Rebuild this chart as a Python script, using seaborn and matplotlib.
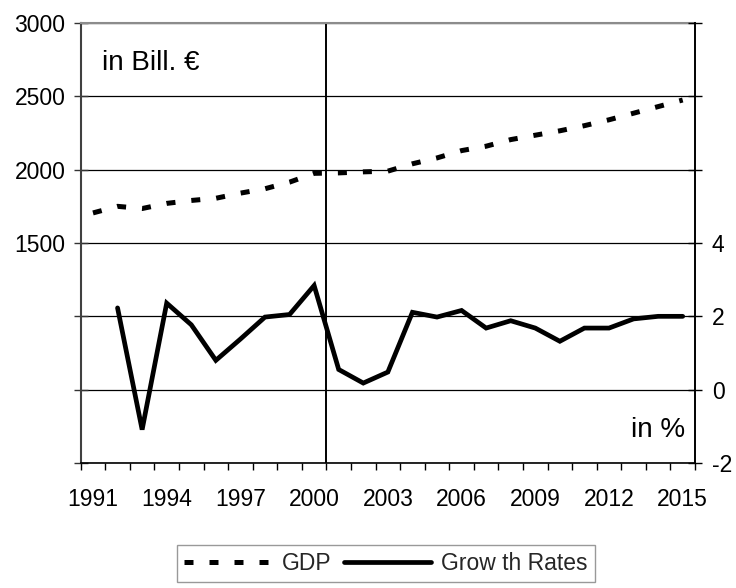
import numpy as np
import pandas as pd
import matplotlib
matplotlib.use("Agg")
import matplotlib.pyplot as plt
import seaborn as sns

# ---- data ----
years = list(range(1991, 2016))
gdp = [1705, 1750, 1735, 1770, 1790, 1805, 1840, 1870, 1915, 1975,
       1978, 1985, 1990, 2040, 2080, 2130, 2160, 2205, 2235, 2265,
       2300, 2340, 2385, 2430, 2475]
growth = [np.nan, 2.23, -1.09, 2.36, 1.77, 0.80, 1.38, 1.98, 2.05, 2.84,
          0.55, 0.18, 0.48, 2.11, 1.98, 2.16, 1.68, 1.88, 1.68, 1.32,
          1.68, 1.68, 1.93, 2.00, 2.00]
x_label_years = [1991, 1994, 1997, 2000, 2003, 2006, 2009, 2012, 2015]
left_ticks = [0, 500, 1000, 1500, 2000, 2500, 3000]
left_labels = ["", "", "", "1500", "2000", "2500", "3000"]
right_ticks = [-2, 0, 2, 4, 6, 8, 10]
right_labels = ["-2", "0", "2", "4", "", "", ""]
series_names = ["GDP", "Grow th Rates"]
left_unit = "in Bill. €"
right_unit = "in %"
marker_year = 2000.5

df = pd.DataFrame({"year": years, "gdp": gdp, "growth": growth})

sns.set_style("white")
plt.rcParams["font.family"] = ["Liberation Sans", "DejaVu Sans"]

fig = plt.figure(figsize=(7.36, 5.88), dpi=100)
ax = fig.add_axes([80.7 / 736, 1 - 463 / 588, (695 - 80.7) / 736, 440 / 588])
ax2 = ax.twinx()

sns.lineplot(data=df, x="year", y="gdp", ax=ax, color="black", lw=3.6, legend=False)
sns.lineplot(data=df.dropna(), x="year", y="growth", ax=ax2, color="black", lw=3.4, legend=False)
gdp_line = ax.lines[0]
gdp_line.set_linestyle((0, (1.8, 3.2)))
gdp_line.set_dash_capstyle("butt")
growth_line = ax2.lines[0]
growth_line.set_solid_joinstyle("miter")

for a in (ax, ax2):
    if a.get_legend() is not None:
        a.get_legend().remove()

# axes ranges
ax.set_xlim(1990.5, 2015.5)
ax.set_ylim(0, 3000)
ax2.set_ylim(-2, 10)

# x ticks
ax.set_xticks(x_label_years)
ax.set_xticklabels([str(y) for y in x_label_years])
ax.set_xticks(np.arange(1990.5, 2016, 1), minor=True)
ax.tick_params(axis="x", which="major", length=0, pad=18, labelsize=16.5, colors="black")
ax.tick_params(axis="x", which="minor", length=5, width=1, direction="out", color="black", bottom=True)

# left y
ax.set_yticks(left_ticks)
ax.set_yticklabels(left_labels)
ax.tick_params(axis="y", direction="inout", length=10, width=1, pad=6, labelsize=16.5,
               color="#333333", labelcolor="black", left=True)

# right y
ax2.set_yticks(right_ticks)
ax2.set_yticklabels(right_labels)
ax2.tick_params(axis="y", direction="inout", length=10, width=1, pad=7, labelsize=16.5,
                color="black", labelcolor="black", right=True)

ax.set_xlabel("")
ax.set_ylabel("")
ax2.set_ylabel("")

# grid
ax.yaxis.grid(True, color="black", lw=0.9)
ax.set_axisbelow(True)
ax.axvline(marker_year, color="black", lw=1.4, zorder=1.6)

# spines
ax.spines["top"].set_color("#8c8c8c")
ax.spines["top"].set_linewidth(1.5)
ax.spines["left"].set_color("#404040")
ax.spines["left"].set_linewidth(1.5)
ax.spines["bottom"].set_color("black")
ax.spines["bottom"].set_linewidth(1.2)
ax.spines["right"].set_visible(False)
for s in ("left", "top", "bottom"):
    ax2.spines[s].set_visible(False)
ax2.spines["right"].set_color("black")
ax2.spines["right"].set_linewidth(1.4)

# unit labels
ax.text(0.0347, 0.893, left_unit, transform=ax.transAxes, fontsize=20,
        ha="left", va="baseline", color="black")
ax.text(0.984, 0.059, right_unit, transform=ax.transAxes, fontsize=20,
        ha="right", va="baseline", color="black")

# legend
leg = fig.legend([gdp_line, growth_line], series_names, loc="upper center",
                 bbox_to_anchor=(386 / 736, 1 - 545 / 588), ncol=2, fontsize=16.5,
                 frameon=True, fancybox=False, edgecolor="#808080", borderaxespad=0,
                 borderpad=0.3, handlelength=3.8, handletextpad=0.45, columnspacing=0.55)
leg.get_frame().set_linewidth(1.0)

fig.savefig("out.png", dpi=100)
